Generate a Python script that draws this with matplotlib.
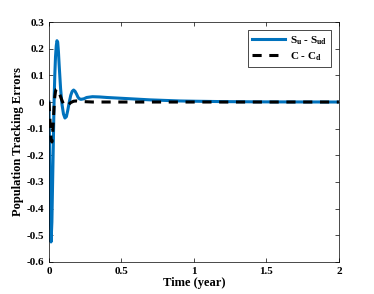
import numpy as np
import matplotlib
matplotlib.use("Agg")
import matplotlib.pyplot as plt

plt.rcParams['font.family'] = ['Liberation Serif', 'DejaVu Serif']
plt.rcParams['font.weight'] = 'bold'
plt.rcParams['mathtext.fontset'] = 'custom'
plt.rcParams['mathtext.rm'] = 'Liberation Serif:bold'
plt.rcParams['mathtext.it'] = 'Liberation Serif:bold'
plt.rcParams['mathtext.bf'] = 'Liberation Serif:bold'

# S_u - S_ud error
t_s = [0.0, 0.005, 0.01, 0.014, 0.02, 0.025, 0.03, 0.035, 0.04, 0.045, 0.05,
       0.055, 0.06, 0.065, 0.07, 0.08, 0.09, 0.1, 0.11, 0.12, 0.13, 0.14,
       0.15, 0.16, 0.17, 0.18, 0.19, 0.2, 0.21, 0.22, 0.24, 0.26, 0.3, 0.35,
       0.4, 0.5, 0.6, 0.7, 0.8, 0.9, 1.0, 1.2, 1.5, 2.0]
e_s = [0.0, -0.2, -0.45, -0.525, -0.45, -0.3, -0.15, 0.0, 0.1, 0.17, 0.21,
       0.23, 0.225, 0.19, 0.14, 0.05, -0.01, -0.045, -0.06, -0.055, -0.03, 0.0,
       0.025, 0.04, 0.045, 0.04, 0.03, 0.018, 0.012, 0.01, 0.012, 0.017, 0.02, 0.019,
       0.017, 0.014, 0.011, 0.008, 0.006, 0.004, 0.003, 0.0015, 0.0005, 0.0]

# C - C_d error
t_c = [0.0, 0.005, 0.01, 0.015, 0.02, 0.025, 0.03, 0.035, 0.04, 0.045, 0.05,
       0.055, 0.06, 0.07, 0.08, 0.09, 0.1, 0.11, 0.12, 0.13, 0.14, 0.15,
       0.17, 0.19, 0.22, 0.3, 2.0]
e_c = [0.0, -0.05, -0.1, -0.14, -0.15, -0.12, -0.07, -0.02, 0.02, 0.04, 0.048,
       0.05, 0.047, 0.035, 0.02, 0.005, -0.007, -0.014, -0.015, -0.012, -0.007, -0.002,
       0.003, 0.004, 0.002, 0.0, 0.0]

fig = plt.figure(figsize=(3.74, 2.94), dpi=100)
ax = fig.add_axes([0.131, 0.109, 0.775, 0.816])

ax.plot(t_s, e_s, color='#0072BD', lw=2.2, label=r'$S_u$ - $S_{ud}$')
ax.plot(t_c, e_c, color='black', lw=2.2, ls=(0, (3, 2.5)), label=r'$C$ - $C_d$')

ax.set_xlim(0, 2)
ax.set_ylim(-0.6, 0.3)
ax.set_xticks([0, 0.5, 1, 1.5, 2])
ax.set_xticklabels(['0', '0.5', '1', '1.5', '2'])
ax.set_yticks(np.round(np.arange(-0.6, 0.31, 0.1), 1))
ax.set_yticklabels(['-0.6', '-0.5', '-0.4', '-0.3', '-0.2', '-0.1', '0', '0.1', '0.2', '0.3'])
ax.tick_params(direction='in', top=True, right=True, labelsize=8, length=3, width=0.5)
for sp in ax.spines.values():
    sp.set_linewidth(0.5)
ax.set_xlabel('Time (year)', fontsize=9, fontweight='bold', labelpad=1)
ax.set_ylabel('Population Tracking Errors', fontsize=9, fontweight='bold', labelpad=2)

leg = ax.legend(loc='upper right', fontsize=8, fancybox=False, edgecolor='black',
                framealpha=1, handlelength=3.0, handletextpad=0.4, labelspacing=0.3,
                borderaxespad=0.7)
leg.get_frame().set_linewidth(0.5)

fig.savefig('out.png', dpi=100)
